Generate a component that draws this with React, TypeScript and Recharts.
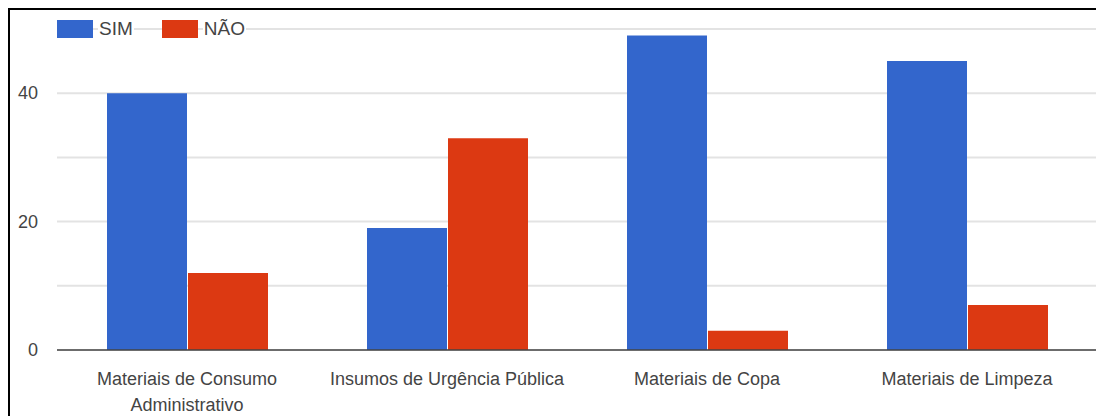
import { Bar, BarChart, CartesianGrid, XAxis, YAxis } from "recharts";

const CATEGORIES = [
  ["Materiais de Consumo", "Administrativo"],
  ["Insumos de Urgência Pública"],
  ["Materiais de Copa"],
  ["Materiais de Limpeza"],
];
const SIM = [40, 19, 49, 45];
const NAO = [12, 33, 3, 7];
const Y_TICKS = [0, 10, 20, 30, 40, 50];
const Y_LABELS = [0, 20, 40];

const BLUE = "#3366cc";
const RED = "#dc3912";
const FONT = "'Liberation Sans', Arial, sans-serif";

const data = CATEGORIES.map((lines, i) => ({
  name: lines.join(" "),
  lines,
  sim: SIM[i],
  nao: NAO[i],
}));

function XTick({ x, y, payload, index }: any) {
  const lines: string[] = data[index]?.lines ?? [payload.value];
  return (
    <text x={x} y={y} textAnchor="middle" fill="#444" fontSize={18} fontFamily={FONT}>
      {lines.map((l, i) => (
        <tspan key={i} x={x} dy={i === 0 ? 27 : 26}>
          {l}
        </tspan>
      ))}
    </text>
  );
}

function YTick({ y, payload }: any) {
  if (!Y_LABELS.includes(payload.value)) return null;
  return (
    <text x={28} y={y} dy={6} textAnchor="end" fill="#444" fontSize={18} fontFamily={FONT}>
      {payload.value}
    </text>
  );
}

const LEGEND = [
  { label: "SIM", color: BLUE },
  { label: "NÃO", color: RED },
];

export default function App() {
  return (
    <div
      style={{
        position: "absolute",
        left: 8,
        top: 8,
        width: 1088,
        height: 408,
        overflow: "hidden",
        borderTop: "2px solid #000",
        borderLeft: "2px solid #000",
        boxSizing: "border-box",
        background: "#fff",
      }}
    >
      <BarChart
        width={1100}
        height={406}
        data={data}
        margin={{ top: 19, right: 13, bottom: 0, left: 0 }}
        barSize={80}
        barGap={1}
      >
        <CartesianGrid vertical={false} stroke="#e3e3e3" strokeWidth={2} />
        <XAxis
          dataKey="name"
          height={66}
          tickLine={false}
          axisLine={{ stroke: "#444", strokeWidth: 1.5 }}
          tick={<XTick />}
          interval={0}
        />
        <YAxis
          width={47}
          domain={[0, 50]}
          ticks={Y_TICKS}
          tickLine={false}
          axisLine={false}
          tick={<YTick />}
          interval={0}
        />
        <Bar dataKey="sim" name="SIM" fill={BLUE} isAnimationActive={false} />
        <Bar dataKey="nao" name="NÃO" fill={RED} isAnimationActive={false} />
      </BarChart>

      {/* legend sits on the top gridline, like the original */}
      <div
        style={{
          position: "absolute",
          top: 8,
          left: 47,
          display: "flex",
          alignItems: "center",
          fontFamily: FONT,
          fontSize: 19,
          color: "#444",
        }}
      >
        {LEGEND.map((it, i) => (
          <span key={it.label} style={{ display: "flex", alignItems: "center", marginRight: i === 0 ? 28 : 0 }}>
            <span style={{ width: 36, height: 18, background: it.color, display: "inline-block", marginRight: 5 }} />
            <span style={{ background: "#fff", padding: "0 1px" }}>{it.label}</span>
          </span>
        ))}
      </div>
    </div>
  );
}
